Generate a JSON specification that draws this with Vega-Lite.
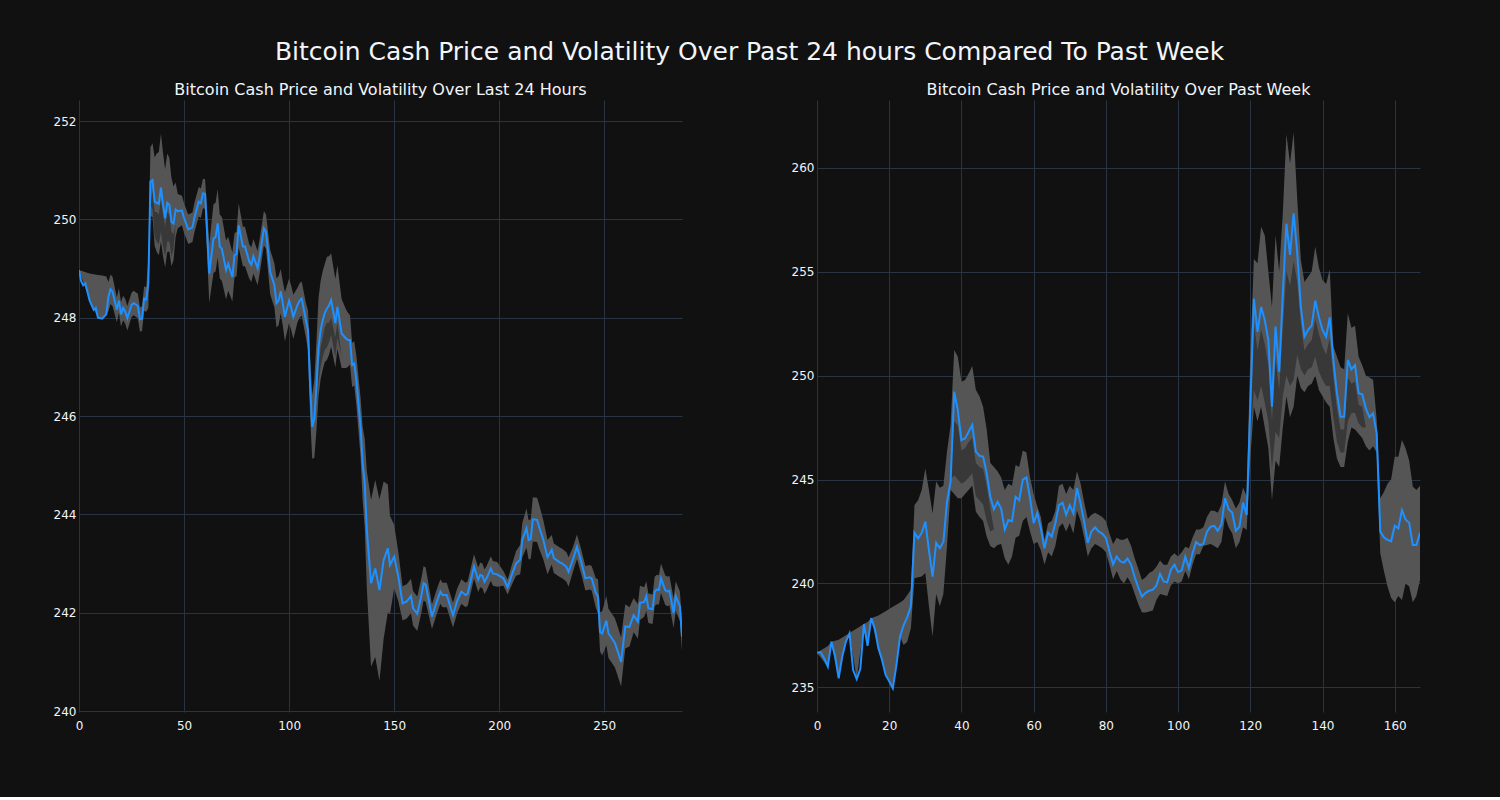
{
  "$schema": "https://vega.github.io/schema/vega-lite/v6.json",
  "background": "#111111",
  "padding": {"left": 53, "top": 40, "right": 80, "bottom": 66},
  "title": {"text": "Bitcoin Cash Price and Volatility Over Past 24 hours Compared To Past Week", "fontSize": 25, "color": "#f2f5fa", "font": "DejaVu Sans", "fontWeight": "normal", "anchor": "middle", "offset": 17, "dx": 13},
  "datasets": {
    "lp": [
      {"x":0,"p":248.97},{"x":1,"p":248.75},{"x":2,"p":248.66},{"x":3,"p":248.7},{"x":5,"p":248.36},{"x":7,"p":248.16},{"x":8,"p":248.2},{"x":9,"p":248.0},{"x":11,"p":247.98},{"x":13,"p":248.07},{"x":14,"p":248.43},{"x":15,"p":248.58},{"x":16,"p":248.53},{"x":18,"p":248.16},{"x":19,"p":248.35},{"x":20,"p":248.07},{"x":21,"p":248.2},{"x":22,"p":248.13},{"x":23,"p":247.99},{"x":25,"p":248.26},{"x":26,"p":248.3},{"x":28,"p":248.24},{"x":29,"p":247.97},{"x":30,"p":247.98},{"x":31,"p":248.39},{"x":32,"p":248.37},{"x":33,"p":248.7},{"x":34,"p":250.77},{"x":35,"p":250.8},{"x":36,"p":250.36},{"x":37,"p":250.34},{"x":38,"p":250.32},{"x":39,"p":250.65},{"x":40,"p":250.3},{"x":41,"p":250.02},{"x":42,"p":250.34},{"x":43,"p":250.3},{"x":44,"p":249.95},{"x":45,"p":249.92},{"x":46,"p":250.2},{"x":47,"p":250.17},{"x":49,"p":250.18},{"x":50,"p":250.03},{"x":52,"p":249.8},{"x":54,"p":249.84},{"x":55,"p":250.05},{"x":57,"p":250.36},{"x":58,"p":250.33},{"x":59,"p":250.53},{"x":60,"p":250.52},{"x":62,"p":248.9},{"x":64,"p":249.61},{"x":65,"p":249.64},{"x":66,"p":249.92},{"x":67,"p":249.45},{"x":68,"p":249.4},{"x":70,"p":248.97},{"x":71,"p":249.1},{"x":73,"p":248.83},{"x":74,"p":249.27},{"x":75,"p":249.3},{"x":76,"p":249.88},{"x":78,"p":249.45},{"x":79,"p":249.45},{"x":81,"p":249.15},{"x":82,"p":249.08},{"x":83,"p":249.25},{"x":85,"p":249.01},{"x":86,"p":249.25},{"x":88,"p":249.82},{"x":89,"p":249.75},{"x":91,"p":248.93},{"x":93,"p":248.66},{"x":94,"p":248.3},{"x":95,"p":248.35},{"x":96,"p":248.54},{"x":97,"p":248.29},{"x":98,"p":248.02},{"x":100,"p":248.35},{"x":101,"p":248.2},{"x":102,"p":248.02},{"x":104,"p":248.26},{"x":105,"p":248.35},{"x":106,"p":248.39},{"x":108,"p":247.95},{"x":109,"p":247.75},{"x":110,"p":246.6},{"x":111,"p":245.78},{"x":112,"p":245.95},{"x":113,"p":246.6},{"x":114,"p":247.4},{"x":115,"p":247.75},{"x":116,"p":247.95},{"x":117,"p":248.1},{"x":118,"p":248.19},{"x":119,"p":248.25},{"x":120,"p":248.36},{"x":122,"p":247.89},{"x":123,"p":248.22},{"x":125,"p":247.68},{"x":127,"p":247.58},{"x":128,"p":247.55},{"x":129,"p":247.55},{"x":130,"p":247.04},{"x":131,"p":247.07},{"x":132,"p":246.73},{"x":134,"p":245.78},{"x":135,"p":245.04},{"x":136,"p":244.63},{"x":137,"p":243.68},{"x":139,"p":242.6},{"x":141,"p":242.9},{"x":143,"p":242.46},{"x":145,"p":243.07},{"x":147,"p":243.31},{"x":148,"p":242.97},{"x":150,"p":243.14},{"x":152,"p":242.73},{"x":154,"p":242.19},{"x":156,"p":242.23},{"x":158,"p":242.34},{"x":159,"p":242.09},{"x":161,"p":241.98},{"x":163,"p":242.36},{"x":164,"p":242.6},{"x":165,"p":242.57},{"x":168,"p":241.92},{"x":170,"p":242.19},{"x":172,"p":242.43},{"x":173,"p":242.36},{"x":175,"p":242.36},{"x":178,"p":241.95},{"x":180,"p":242.24},{"x":182,"p":242.43},{"x":184,"p":242.36},{"x":185,"p":242.39},{"x":188,"p":242.94},{"x":190,"p":242.67},{"x":191,"p":242.77},{"x":192,"p":242.75},{"x":193,"p":242.63},{"x":194,"p":242.7},{"x":196,"p":242.9},{"x":197,"p":242.8},{"x":199,"p":242.78},{"x":202,"p":242.7},{"x":203,"p":242.61},{"x":204,"p":242.52},{"x":206,"p":242.77},{"x":208,"p":243.0},{"x":210,"p":243.08},{"x":211,"p":243.48},{"x":213,"p":243.72},{"x":214,"p":243.48},{"x":215,"p":243.5},{"x":216,"p":243.9},{"x":218,"p":243.89},{"x":219,"p":243.75},{"x":221,"p":243.48},{"x":223,"p":243.13},{"x":225,"p":243.28},{"x":226,"p":243.11},{"x":229,"p":243.02},{"x":230,"p":243.0},{"x":232,"p":242.93},{"x":233,"p":242.83},{"x":235,"p":243.07},{"x":237,"p":243.34},{"x":239,"p":243.04},{"x":241,"p":242.7},{"x":243,"p":242.72},{"x":244,"p":242.7},{"x":246,"p":242.4},{"x":247,"p":242.33},{"x":248,"p":241.61},{"x":249,"p":241.58},{"x":251,"p":241.84},{"x":252,"p":241.58},{"x":255,"p":241.39},{"x":256,"p":241.27},{"x":258,"p":241.0},{"x":260,"p":241.72},{"x":262,"p":241.71},{"x":264,"p":241.95},{"x":266,"p":241.82},{"x":267,"p":242.2},{"x":269,"p":242.22},{"x":270,"p":242.34},{"x":271,"p":242.09},{"x":273,"p":242.07},{"x":274,"p":242.43},{"x":275,"p":242.47},{"x":276,"p":242.46},{"x":277,"p":242.7},{"x":279,"p":242.46},{"x":280,"p":242.43},{"x":281,"p":242.45},{"x":283,"p":241.99},{"x":284,"p":242.34},{"x":286,"p":242.13},{"x":287,"p":241.51}
    ],
    "lb": [
      {"x":0,"lo":248.97,"hi":248.97},{"x":5,"lo":248.36,"hi":248.9},{"x":9,"lo":248.0,"hi":248.87},{"x":11,"lo":247.98,"hi":248.86},{"x":13,"lo":248.07,"hi":248.84},
      {"x":14,"lo":248.13,"hi":248.73},{"x":15,"lo":248.28,"hi":248.88},{"x":16,"lo":248.23,"hi":248.83},{"x":18,"lo":247.91,"hi":248.41},{"x":19,"lo":248.1,"hi":248.6},{"x":20,"lo":247.82,"hi":248.32},{"x":21,"lo":247.95,"hi":248.45},{"x":22,"lo":247.88,"hi":248.38},{"x":23,"lo":247.74,"hi":248.24},{"x":25,"lo":248.01,"hi":248.51},{"x":26,"lo":248.05,"hi":248.55},{"x":28,"lo":247.99,"hi":248.49},{"x":29,"lo":247.72,"hi":248.22},{"x":30,"lo":247.73,"hi":248.23},{"x":31,"lo":248.14,"hi":248.64},{"x":32,"lo":248.12,"hi":248.62},{"x":33,"lo":248.2,"hi":249.2},{"x":34,"lo":250.07,"hi":251.47},{"x":35,"lo":250.05,"hi":251.55},{"x":36,"lo":249.46,"hi":251.26},{"x":37,"lo":249.34,"hi":251.34},{"x":38,"lo":249.27,"hi":251.37},{"x":39,"lo":249.55,"hi":251.75},{"x":40,"lo":249.25,"hi":251.35},{"x":41,"lo":249.02,"hi":251.02},{"x":42,"lo":249.34,"hi":251.34},{"x":43,"lo":249.35,"hi":251.25},{"x":44,"lo":249.05,"hi":250.85},{"x":45,"lo":249.17,"hi":250.67},{"x":46,"lo":249.65,"hi":250.75},{"x":47,"lo":249.82,"hi":250.52},{"x":49,"lo":249.88,"hi":250.48},{"x":50,"lo":249.73,"hi":250.33},{"x":52,"lo":249.5,"hi":250.1},{"x":54,"lo":249.54,"hi":250.14},{"x":55,"lo":249.75,"hi":250.35},{"x":57,"lo":250.06,"hi":250.66},{"x":58,"lo":250.03,"hi":250.63},{"x":59,"lo":250.23,"hi":250.83},{"x":60,"lo":250.22,"hi":250.82},{"x":62,"lo":248.3,"hi":249.5},{"x":64,"lo":248.91,"hi":250.31},{"x":65,"lo":248.94,"hi":250.34},{"x":66,"lo":249.22,"hi":250.62},{"x":67,"lo":248.8,"hi":250.1},{"x":68,"lo":248.75,"hi":250.05},{"x":70,"lo":248.37,"hi":249.57},{"x":71,"lo":248.55,"hi":249.65},{"x":73,"lo":248.33,"hi":249.33},{"x":74,"lo":248.82,"hi":249.72},{"x":75,"lo":248.85,"hi":249.75},{"x":76,"lo":249.43,"hi":250.33},{"x":78,"lo":249.05,"hi":249.85},{"x":79,"lo":249.05,"hi":249.85},{"x":81,"lo":248.8,"hi":249.5},{"x":82,"lo":248.73,"hi":249.43},{"x":83,"lo":248.9,"hi":249.6},{"x":85,"lo":248.66,"hi":249.36},{"x":86,"lo":248.9,"hi":249.6},{"x":88,"lo":249.47,"hi":250.17},{"x":89,"lo":249.4,"hi":250.1},{"x":91,"lo":248.48,"hi":249.38},{"x":93,"lo":248.21,"hi":249.11},{"x":94,"lo":247.8,"hi":248.8},{"x":95,"lo":247.85,"hi":248.85},{"x":96,"lo":248.09,"hi":248.99},{"x":97,"lo":247.84,"hi":248.74},{"x":98,"lo":247.52,"hi":248.52},{"x":100,"lo":247.9,"hi":248.8},{"x":101,"lo":247.75,"hi":248.65},{"x":102,"lo":247.57,"hi":248.47},{"x":104,"lo":247.91,"hi":248.61},{"x":105,"lo":248.0,"hi":248.7},{"x":106,"lo":248.04,"hi":248.74},{"x":108,"lo":247.6,"hi":248.3},{"x":109,"lo":247.35,"hi":248.15},{"x":110,"lo":246.0,"hi":247.2},{"x":111,"lo":245.13,"hi":246.43},{"x":112,"lo":245.15,"hi":246.75},{"x":113,"lo":245.7,"hi":247.5},{"x":114,"lo":246.4,"hi":248.4},{"x":115,"lo":246.75,"hi":248.75},{"x":116,"lo":246.95,"hi":248.95},{"x":117,"lo":247.1,"hi":249.1},{"x":118,"lo":247.14,"hi":249.24},{"x":119,"lo":247.25,"hi":249.25},{"x":120,"lo":247.41,"hi":249.31},{"x":122,"lo":246.99,"hi":248.79},{"x":123,"lo":247.37,"hi":249.07},{"x":125,"lo":246.98,"hi":248.38},{"x":127,"lo":246.98,"hi":248.18},{"x":128,"lo":247.0,"hi":248.1},{"x":129,"lo":247.05,"hi":248.05},{"x":130,"lo":246.59,"hi":247.49},{"x":131,"lo":246.62,"hi":247.52},{"x":132,"lo":246.23,"hi":247.23},{"x":134,"lo":245.18,"hi":246.38},{"x":135,"lo":244.29,"hi":245.79},{"x":136,"lo":243.73,"hi":245.53},{"x":137,"lo":242.48,"hi":244.88},{"x":139,"lo":240.9,"hi":244.3},{"x":141,"lo":241.1,"hi":244.7},{"x":143,"lo":240.61,"hi":244.31},{"x":145,"lo":241.47,"hi":244.67},{"x":147,"lo":242.01,"hi":244.61},{"x":148,"lo":241.97,"hi":243.97},{"x":150,"lo":242.49,"hi":243.79},{"x":152,"lo":242.23,"hi":243.23},{"x":154,"lo":241.84,"hi":242.54},{"x":156,"lo":241.88,"hi":242.58},{"x":158,"lo":241.99,"hi":242.69},{"x":159,"lo":241.74,"hi":242.44},{"x":161,"lo":241.63,"hi":242.33},{"x":163,"lo":242.01,"hi":242.71},{"x":164,"lo":242.25,"hi":242.95},{"x":165,"lo":242.22,"hi":242.92},{"x":168,"lo":241.67,"hi":242.17},{"x":170,"lo":241.94,"hi":242.44},{"x":172,"lo":242.18,"hi":242.68},{"x":173,"lo":242.11,"hi":242.61},{"x":175,"lo":242.11,"hi":242.61},{"x":178,"lo":241.7,"hi":242.2},{"x":180,"lo":241.99,"hi":242.49},{"x":182,"lo":242.18,"hi":242.68},{"x":184,"lo":242.11,"hi":242.61},{"x":185,"lo":242.14,"hi":242.64},{"x":188,"lo":242.69,"hi":243.19},{"x":190,"lo":242.42,"hi":242.92},{"x":191,"lo":242.52,"hi":243.02},{"x":192,"lo":242.5,"hi":243.0},{"x":193,"lo":242.38,"hi":242.88},{"x":194,"lo":242.45,"hi":242.95},{"x":196,"lo":242.65,"hi":243.15},{"x":197,"lo":242.55,"hi":243.05},{"x":199,"lo":242.53,"hi":243.03},{"x":202,"lo":242.55,"hi":242.85},{"x":203,"lo":242.46,"hi":242.76},{"x":204,"lo":242.37,"hi":242.67},{"x":206,"lo":242.57,"hi":242.97},{"x":208,"lo":242.75,"hi":243.25},{"x":210,"lo":242.78,"hi":243.38},{"x":211,"lo":243.13,"hi":243.83},{"x":213,"lo":243.32,"hi":244.12},{"x":214,"lo":243.08,"hi":243.88},{"x":215,"lo":243.1,"hi":243.9},{"x":216,"lo":243.45,"hi":244.35},{"x":218,"lo":243.44,"hi":244.34},{"x":219,"lo":243.3,"hi":244.2},{"x":221,"lo":243.08,"hi":243.88},{"x":223,"lo":242.78,"hi":243.48},{"x":225,"lo":242.98,"hi":243.58},{"x":226,"lo":242.81,"hi":243.41},{"x":229,"lo":242.72,"hi":243.32},{"x":230,"lo":242.7,"hi":243.3},{"x":232,"lo":242.63,"hi":243.23},{"x":233,"lo":242.53,"hi":243.13},{"x":235,"lo":242.82,"hi":243.32},{"x":237,"lo":243.09,"hi":243.59},{"x":239,"lo":242.79,"hi":243.29},{"x":241,"lo":242.45,"hi":242.95},{"x":243,"lo":242.47,"hi":242.97},{"x":244,"lo":242.45,"hi":242.95},{"x":246,"lo":242.1,"hi":242.7},{"x":247,"lo":241.98,"hi":242.68},{"x":248,"lo":241.21,"hi":242.01},{"x":249,"lo":241.13,"hi":242.03},{"x":251,"lo":241.34,"hi":242.34},{"x":252,"lo":241.08,"hi":242.08},{"x":255,"lo":240.89,"hi":241.89},{"x":256,"lo":240.77,"hi":241.77},{"x":258,"lo":240.5,"hi":241.5},{"x":260,"lo":241.27,"hi":242.17},{"x":262,"lo":241.31,"hi":242.11},{"x":264,"lo":241.6,"hi":242.3},{"x":266,"lo":241.47,"hi":242.17},{"x":267,"lo":241.85,"hi":242.55},{"x":269,"lo":241.92,"hi":242.52},{"x":270,"lo":242.04,"hi":242.64},{"x":271,"lo":241.79,"hi":242.39},{"x":273,"lo":241.77,"hi":242.37},{"x":274,"lo":242.13,"hi":242.73},{"x":275,"lo":242.17,"hi":242.77},{"x":276,"lo":242.16,"hi":242.76},{"x":277,"lo":242.4,"hi":243.0},{"x":279,"lo":242.16,"hi":242.76},{"x":280,"lo":242.13,"hi":242.73},{"x":281,"lo":242.15,"hi":242.75},{"x":283,"lo":241.69,"hi":242.29},{"x":284,"lo":242.04,"hi":242.64},{"x":286,"lo":241.83,"hi":242.43},{"x":287,"lo":241.21,"hi":241.81}
    ],
    "ld": [
      {"x":34,"lo":250.3,"hi":250.3,"seg":"a"},{"x":35,"lo":250.2,"hi":250.6,"seg":"a"},{"x":36,"lo":249.65,"hi":250.15,"seg":"a"},{"x":37,"lo":249.55,"hi":250.15,"seg":"a"},{"x":38,"lo":249.5,"hi":250.1,"seg":"a"},{"x":39,"lo":249.75,"hi":250.4,"seg":"a"},{"x":40,"lo":249.45,"hi":250.1,"seg":"a"},{"x":41,"lo":249.25,"hi":249.85,"seg":"a"},{"x":42,"lo":249.55,"hi":250.15,"seg":"a"},{"x":43,"lo":249.55,"hi":250.1,"seg":"a"},{"x":44,"lo":249.25,"hi":249.75,"seg":"a"},{"x":45,"lo":249.4,"hi":249.7,"seg":"a"},{"x":46,"lo":249.9,"hi":249.9,"seg":"a"},
      {"x":113,"lo":246.0,"hi":246.0,"seg":"b"},{"x":114,"lo":246.7,"hi":247.0,"seg":"b"},{"x":115,"lo":247.0,"hi":247.4,"seg":"b"},{"x":116,"lo":247.2,"hi":247.6,"seg":"b"},{"x":117,"lo":247.35,"hi":247.8,"seg":"b"},{"x":118,"lo":247.4,"hi":247.9,"seg":"b"},{"x":119,"lo":247.5,"hi":247.9,"seg":"b"},{"x":120,"lo":247.65,"hi":248.0,"seg":"b"},{"x":122,"lo":247.2,"hi":247.6,"seg":"b"},{"x":123,"lo":247.6,"hi":247.9,"seg":"b"},{"x":125,"lo":247.2,"hi":247.2,"seg":"b"}
    ],
    "rp": [
      {"x":0,"p":236.67},{"x":1,"p":236.7},{"x":2,"p":236.4},{"x":3,"p":236.0},{"x":4,"p":237.2},{"x":5,"p":236.5},{"x":6,"p":235.44},{"x":7,"p":236.5},{"x":8,"p":237.2},{"x":9,"p":237.6},{"x":10,"p":235.84},{"x":11,"p":235.4},{"x":12,"p":235.9},{"x":13,"p":238.05},{"x":14,"p":237.0},{"x":15,"p":238.33},{"x":16,"p":237.85},{"x":17,"p":236.89},{"x":18,"p":236.33},{"x":19,"p":235.6},{"x":20,"p":235.3},{"x":21,"p":234.96},{"x":22,"p":236.08},{"x":23,"p":237.44},{"x":24,"p":238.0},{"x":25,"p":238.38},{"x":26,"p":238.9},{"x":27,"p":242.44},{"x":28,"p":242.17},{"x":29,"p":242.44},{"x":30,"p":242.97},{"x":31,"p":241.6},{"x":32,"p":240.33},{"x":33,"p":241.96},{"x":34,"p":241.7},{"x":35,"p":242.0},{"x":36,"p":243.93},{"x":37,"p":244.9},{"x":38,"p":249.22},{"x":39,"p":248.34},{"x":40,"p":246.9},{"x":41,"p":246.97},{"x":42,"p":247.3},{"x":43,"p":247.62},{"x":44,"p":246.34},{"x":45,"p":246.14},{"x":46,"p":246.1},{"x":47,"p":245.3},{"x":48,"p":244.17},{"x":49,"p":243.57},{"x":50,"p":243.93},{"x":51,"p":243.6},{"x":52,"p":242.6},{"x":53,"p":243.05},{"x":54,"p":243.0},{"x":55,"p":244.17},{"x":56,"p":244.0},{"x":57,"p":245.0},{"x":58,"p":245.1},{"x":59,"p":244.1},{"x":60,"p":242.9},{"x":61,"p":243.4},{"x":62,"p":242.64},{"x":63,"p":241.69},{"x":64,"p":242.45},{"x":65,"p":242.25},{"x":66,"p":242.9},{"x":67,"p":243.77},{"x":68,"p":243.88},{"x":69,"p":243.3},{"x":70,"p":243.77},{"x":71,"p":243.37},{"x":72,"p":244.58},{"x":73,"p":243.85},{"x":74,"p":242.96},{"x":75,"p":241.96},{"x":76,"p":242.5},{"x":77,"p":242.7},{"x":78,"p":242.5},{"x":79,"p":242.4},{"x":80,"p":242.2},{"x":81,"p":241.53},{"x":82,"p":240.92},{"x":83,"p":241.3},{"x":84,"p":241.06},{"x":85,"p":241.0},{"x":86,"p":241.2},{"x":87,"p":240.9},{"x":88,"p":240.3},{"x":89,"p":239.8},{"x":90,"p":239.37},{"x":91,"p":239.55},{"x":92,"p":239.65},{"x":93,"p":239.7},{"x":94,"p":239.9},{"x":95,"p":240.46},{"x":96,"p":240.1},{"x":97,"p":240.06},{"x":98,"p":240.66},{"x":99,"p":240.9},{"x":100,"p":240.54},{"x":101,"p":240.63},{"x":102,"p":241.29},{"x":103,"p":240.73},{"x":104,"p":241.45},{"x":105,"p":242.0},{"x":106,"p":241.85},{"x":107,"p":241.9},{"x":108,"p":242.49},{"x":109,"p":242.73},{"x":110,"p":242.77},{"x":111,"p":242.53},{"x":112,"p":242.85},{"x":113,"p":244.1},{"x":114,"p":243.57},{"x":115,"p":243.4},{"x":116,"p":242.54},{"x":117,"p":242.73},{"x":118,"p":243.89},{"x":119,"p":243.3},{"x":120,"p":248.5},{"x":121,"p":253.7},{"x":122,"p":252.1},{"x":123,"p":253.3},{"x":124,"p":252.67},{"x":125,"p":251.7},{"x":126,"p":248.5},{"x":127,"p":252.35},{"x":128,"p":250.18},{"x":129,"p":253.9},{"x":130,"p":257.3},{"x":131,"p":255.8},{"x":132,"p":257.8},{"x":133,"p":255.9},{"x":134,"p":253.3},{"x":135,"p":251.87},{"x":136,"p":252.2},{"x":137,"p":252.4},{"x":138,"p":253.6},{"x":139,"p":252.8},{"x":140,"p":252.2},{"x":141,"p":251.87},{"x":142,"p":252.8},{"x":143,"p":250.75},{"x":144,"p":249.15},{"x":145,"p":248.02},{"x":146,"p":248.02},{"x":147,"p":250.75},{"x":148,"p":250.3},{"x":149,"p":250.5},{"x":150,"p":249.15},{"x":151,"p":249.1},{"x":152,"p":248.42},{"x":153,"p":248.0},{"x":154,"p":248.18},{"x":155,"p":247.22},{"x":156,"p":242.49},{"x":157,"p":242.22},{"x":158,"p":242.1},{"x":159,"p":242.03},{"x":160,"p":242.78},{"x":161,"p":242.65},{"x":162,"p":243.53},{"x":163,"p":243.08},{"x":164,"p":242.92},{"x":165,"p":241.85},{"x":166,"p":241.85},{"x":167,"p":242.44}
    ],
    "rb": [
      {"x":0,"lo":236.67,"hi":236.67},{"x":3,"lo":236.0,"hi":236.99},{"x":4,"lo":237.09,"hi":237.2},{"x":6,"lo":235.44,"hi":237.3},{"x":8,"lo":237.2,"hi":237.51},{"x":9,"lo":237.6,"hi":237.62},{"x":11,"lo":235.4,"hi":237.83},{"x":13,"lo":238.04,"hi":238.05},{"x":14,"lo":237.0,"hi":238.15},{"x":15,"lo":238.25,"hi":238.33},{"x":17,"lo":236.89,"hi":238.46},{"x":19,"lo":235.6,"hi":238.67},{"x":21,"lo":234.96,"hi":238.88},{"x":23,"lo":237.44,"hi":239.09},
      {"x":24,"lo":237.04,"hi":239.2},{"x":25,"lo":237.2,"hi":239.45},{"x":26,"lo":237.85,"hi":239.7},{"x":27,"lo":240.25,"hi":243.77},{"x":28,"lo":240.3,"hi":244.0},{"x":29,"lo":240.33,"hi":244.5},{"x":30,"lo":240.5,"hi":245.53},{"x":31,"lo":238.9,"hi":244.5},{"x":32,"lo":237.44,"hi":243.37},{"x":33,"lo":239.5,"hi":244.9},{"x":34,"lo":238.9,"hi":244.6},{"x":35,"lo":239.5,"hi":244.7},{"x":36,"lo":241.77,"hi":246.34},{"x":37,"lo":244.5,"hi":247.62},{"x":38,"lo":244.3,"hi":251.23},{"x":39,"lo":244.1,"hi":250.9},{"x":40,"lo":244.1,"hi":249.7},{"x":41,"lo":244.3,"hi":249.78},{"x":42,"lo":244.5,"hi":250.1},{"x":43,"lo":244.7,"hi":250.46},{"x":44,"lo":243.45,"hi":249.3},{"x":45,"lo":243.2,"hi":249.0},{"x":46,"lo":243.0,"hi":248.5},{"x":47,"lo":242.25,"hi":247.4},{"x":48,"lo":241.8,"hi":245.8},{"x":49,"lo":241.7,"hi":245.6},{"x":50,"lo":241.85,"hi":245.4},{"x":51,"lo":241.9,"hi":245.1},{"x":52,"lo":241.2,"hi":244.5},{"x":53,"lo":240.9,"hi":244.8},{"x":54,"lo":241.3,"hi":244.7},{"x":55,"lo":242.2,"hi":245.7},{"x":56,"lo":242.3,"hi":245.6},{"x":57,"lo":243.0,"hi":246.4},{"x":58,"lo":243.2,"hi":246.3},{"x":59,"lo":242.5,"hi":245.1},{"x":60,"lo":241.9,"hi":244.3},{"x":61,"lo":242.0,"hi":243.7},{"x":62,"lo":241.6,"hi":243.2},{"x":63,"lo":240.9,"hi":242.1},{"x":64,"lo":241.5,"hi":242.9},{"x":65,"lo":241.3,"hi":243.0},{"x":66,"lo":241.8,"hi":243.5},{"x":67,"lo":242.7,"hi":244.7},{"x":68,"lo":242.9,"hi":244.8},{"x":69,"lo":242.5,"hi":244.3},{"x":70,"lo":242.9,"hi":244.7},{"x":71,"lo":242.4,"hi":244.5},{"x":72,"lo":243.5,"hi":245.4},{"x":73,"lo":243.0,"hi":244.8},{"x":74,"lo":242.2,"hi":243.9},{"x":75,"lo":241.3,"hi":243.1},{"x":76,"lo":241.7,"hi":243.3},{"x":77,"lo":241.9,"hi":243.4},{"x":78,"lo":241.8,"hi":243.3},{"x":79,"lo":241.7,"hi":243.2},{"x":80,"lo":241.5,"hi":243.0},{"x":81,"lo":240.9,"hi":242.4},{"x":82,"lo":240.2,"hi":241.9},{"x":83,"lo":240.6,"hi":242.2},{"x":84,"lo":240.2,"hi":242.1},{"x":85,"lo":240.0,"hi":242.1},{"x":86,"lo":240.3,"hi":242.2},{"x":87,"lo":240.0,"hi":241.8},{"x":88,"lo":239.5,"hi":241.2},{"x":89,"lo":239.0,"hi":240.7},{"x":90,"lo":238.6,"hi":240.17},{"x":91,"lo":238.6,"hi":240.3},{"x":92,"lo":238.65,"hi":240.5},{"x":93,"lo":238.7,"hi":240.6},{"x":94,"lo":239.2,"hi":240.8},{"x":95,"lo":239.5,"hi":241.1},{"x":96,"lo":239.45,"hi":240.9},{"x":97,"lo":239.4,"hi":240.9},{"x":98,"lo":239.9,"hi":241.3},{"x":99,"lo":240.1,"hi":241.45},{"x":100,"lo":240.0,"hi":241.3},{"x":101,"lo":240.1,"hi":241.5},{"x":102,"lo":240.6,"hi":241.77},{"x":103,"lo":240.2,"hi":241.7},{"x":104,"lo":240.9,"hi":242.2},{"x":105,"lo":241.4,"hi":242.6},{"x":106,"lo":241.4,"hi":242.6},{"x":107,"lo":241.8,"hi":242.7},{"x":108,"lo":241.85,"hi":243.2},{"x":109,"lo":241.9,"hi":243.5},{"x":110,"lo":241.8,"hi":243.5},{"x":111,"lo":241.7,"hi":243.4},{"x":112,"lo":242.0,"hi":243.8},{"x":113,"lo":243.2,"hi":244.9},{"x":114,"lo":242.7,"hi":244.3},{"x":115,"lo":242.4,"hi":244.0},{"x":116,"lo":241.7,"hi":243.6},{"x":117,"lo":242.0,"hi":243.9},{"x":118,"lo":242.7,"hi":244.6},{"x":119,"lo":242.57,"hi":244.2},{"x":120,"lo":246.0,"hi":251.0},{"x":121,"lo":248.5,"hi":255.6},{"x":122,"lo":247.8,"hi":255.4},{"x":123,"lo":248.5,"hi":257.15},{"x":124,"lo":247.5,"hi":256.75},{"x":125,"lo":246.5,"hi":255.0},{"x":126,"lo":244.0,"hi":253.3},{"x":127,"lo":245.9,"hi":256.75},{"x":128,"lo":245.6,"hi":255.0},{"x":129,"lo":247.5,"hi":257.8},{"x":130,"lo":249.0,"hi":261.6},{"x":131,"lo":248.0,"hi":260.2},{"x":132,"lo":248.5,"hi":261.7},{"x":133,"lo":250.0,"hi":258.5},{"x":134,"lo":249.4,"hi":255.55},{"x":135,"lo":249.2,"hi":254.5},{"x":136,"lo":249.5,"hi":254.75},{"x":137,"lo":249.6,"hi":255.0},{"x":138,"lo":250.0,"hi":256.2},{"x":139,"lo":249.3,"hi":255.2},{"x":140,"lo":249.0,"hi":254.6},{"x":141,"lo":248.7,"hi":254.4},{"x":142,"lo":248.5,"hi":255.1},{"x":143,"lo":247.0,"hi":251.4},{"x":144,"lo":246.0,"hi":250.9},{"x":145,"lo":245.6,"hi":250.4},{"x":146,"lo":245.6,"hi":250.3},{"x":147,"lo":246.8,"hi":253.0},{"x":148,"lo":247.5,"hi":252.3},{"x":149,"lo":247.4,"hi":252.4},{"x":150,"lo":247.2,"hi":250.9},{"x":151,"lo":247.0,"hi":250.5},{"x":152,"lo":246.6,"hi":250.0},{"x":153,"lo":246.4,"hi":249.9},{"x":154,"lo":246.6,"hi":249.8},{"x":155,"lo":246.3,"hi":247.9},{"x":156,"lo":241.45,"hi":244.1},{"x":157,"lo":240.6,"hi":244.4},{"x":158,"lo":239.85,"hi":244.8},{"x":159,"lo":239.3,"hi":245.0},{"x":160,"lo":239.1,"hi":246.1},{"x":161,"lo":239.4,"hi":246.1},{"x":162,"lo":239.2,"hi":246.9},{"x":163,"lo":240.0,"hi":246.5},{"x":164,"lo":239.85,"hi":245.9},{"x":165,"lo":239.1,"hi":244.66},{"x":166,"lo":239.4,"hi":244.5},{"x":167,"lo":240.17,"hi":244.7}
    ],
    "rd": [
      {"x":37,"lo":245.0,"hi":245.0,"seg":"a"},{"x":38,"lo":245.2,"hi":247.8,"seg":"a"},{"x":39,"lo":245.0,"hi":247.6,"seg":"a"},{"x":40,"lo":244.8,"hi":246.4,"seg":"a"},{"x":41,"lo":244.9,"hi":246.5,"seg":"a"},{"x":42,"lo":245.1,"hi":246.8,"seg":"a"},{"x":43,"lo":245.3,"hi":247.0,"seg":"a"},{"x":44,"lo":244.2,"hi":245.8,"seg":"a"},{"x":45,"lo":244.0,"hi":245.6,"seg":"a"},{"x":46,"lo":243.8,"hi":245.5,"seg":"a"},{"x":47,"lo":243.0,"hi":244.7,"seg":"a"},{"x":48,"lo":242.5,"hi":243.6,"seg":"a"},{"x":49,"lo":242.6,"hi":242.6,"seg":"a"},
      {"x":120,"lo":247.0,"hi":247.0,"seg":"b"},{"x":121,"lo":249.3,"hi":252.5,"seg":"b"},{"x":122,"lo":248.8,"hi":251.2,"seg":"b"},{"x":123,"lo":249.5,"hi":252.2,"seg":"b"},{"x":124,"lo":248.7,"hi":251.5,"seg":"b"},{"x":125,"lo":247.8,"hi":250.5,"seg":"b"},{"x":126,"lo":245.5,"hi":247.8,"seg":"b"},{"x":127,"lo":247.3,"hi":250.8,"seg":"b"},{"x":128,"lo":247.0,"hi":249.3,"seg":"b"},{"x":129,"lo":249.0,"hi":252.3,"seg":"b"},{"x":130,"lo":250.0,"hi":255.0,"seg":"b"},{"x":131,"lo":249.5,"hi":254.3,"seg":"b"},{"x":132,"lo":249.8,"hi":255.5,"seg":"b"},{"x":133,"lo":251.0,"hi":254.5,"seg":"b"},{"x":134,"lo":250.3,"hi":252.5,"seg":"b"},{"x":135,"lo":250.0,"hi":251.2,"seg":"b"},{"x":136,"lo":250.3,"hi":251.5,"seg":"b"},{"x":137,"lo":250.4,"hi":251.7,"seg":"b"},{"x":138,"lo":250.9,"hi":252.7,"seg":"b"},{"x":139,"lo":250.2,"hi":252.0,"seg":"b"},{"x":140,"lo":249.8,"hi":251.4,"seg":"b"},{"x":141,"lo":249.5,"hi":251.0,"seg":"b"},{"x":142,"lo":249.5,"hi":251.8,"seg":"b"},{"x":143,"lo":248.0,"hi":249.9,"seg":"b"},{"x":144,"lo":246.8,"hi":248.4,"seg":"b"},{"x":145,"lo":246.3,"hi":247.4,"seg":"b"},{"x":146,"lo":246.3,"hi":247.4,"seg":"b"},{"x":147,"lo":247.8,"hi":249.9,"seg":"b"},{"x":148,"lo":248.2,"hi":249.6,"seg":"b"},{"x":149,"lo":248.2,"hi":249.7,"seg":"b"},{"x":150,"lo":247.7,"hi":248.6,"seg":"b"},{"x":151,"lo":247.5,"hi":248.5,"seg":"b"},{"x":152,"lo":247.5,"hi":247.5,"seg":"b"}
    ]
  },
  "hconcat": [
    {
      "width": 603, "height": 612,
      "title": {"text": "Bitcoin Cash Price and Volatility Over Last 24 Hours", "fontSize": 16, "offset": 2},
      "layer": [
        {"data": {"name": "lb"}, "mark": {"type": "area", "color": "#555555", "opacity": 1, "clip": true},
         "encoding": {
           "x": {"field": "x", "type": "quantitative", "scale": {"domain": [0, 287], "nice": false, "zero": false}, "axis": {"values": [0, 50, 100, 150, 200, 250]}},
           "y": {"field": "lo", "type": "quantitative", "scale": {"domain": [239.98, 252.43], "nice": false, "zero": false}, "axis": {"values": [240, 242, 244, 246, 248, 250, 252]}},
           "y2": {"field": "hi"}}},
        {"data": {"name": "ld"}, "mark": {"type": "area", "color": "#383838", "opacity": 1, "clip": true},
         "encoding": {"x": {"field": "x", "type": "quantitative"}, "y": {"field": "lo", "type": "quantitative"}, "y2": {"field": "hi"}, "detail": {"field": "seg"}}},
        {"mark": {"type": "rule", "color": "#283442", "strokeWidth": 2}, "encoding": {"x": {"datum": 0}}},
        {"data": {"name": "lp"}, "mark": {"type": "line", "color": "#1E90FF", "strokeWidth": 2, "clip": true},
         "encoding": {"x": {"field": "x", "type": "quantitative"}, "y": {"field": "p", "type": "quantitative"}}}
      ]
    },
    {
      "width": 603, "height": 612,
      "title": {"text": "Bitcoin Cash Price and Volatility Over Past Week", "fontSize": 16, "offset": 2},
      "layer": [
        {"data": {"name": "rb"}, "mark": {"type": "area", "color": "#555555", "opacity": 1, "clip": true},
         "encoding": {
           "x": {"field": "x", "type": "quantitative", "scale": {"domain": [0, 167], "nice": false, "zero": false}, "axis": {"values": [0, 20, 40, 60, 80, 100, 120, 140, 160]}},
           "y": {"field": "lo", "type": "quantitative", "scale": {"domain": [233.82, 263.25], "nice": false, "zero": false}, "axis": {"values": [235, 240, 245, 250, 255, 260]}},
           "y2": {"field": "hi"}}},
        {"data": {"name": "rd"}, "mark": {"type": "area", "color": "#383838", "opacity": 1, "clip": true},
         "encoding": {"x": {"field": "x", "type": "quantitative"}, "y": {"field": "lo", "type": "quantitative"}, "y2": {"field": "hi"}, "detail": {"field": "seg"}}},
        {"mark": {"type": "rule", "color": "#283442", "strokeWidth": 2}, "encoding": {"x": {"datum": 0}}},
        {"data": {"name": "rp"}, "mark": {"type": "line", "color": "#1E90FF", "strokeWidth": 2, "clip": true},
         "encoding": {"x": {"field": "x", "type": "quantitative"}, "y": {"field": "p", "type": "quantitative"}}}
      ]
    }
  ],
  "spacing": 109,
  "config": {
    "view": {"stroke": null},
    "axis": {"grid": true, "gridColor": "#283442", "gridWidth": 1, "domain": false, "ticks": false, "labelColor": "#f2f5fa", "labelFont": "DejaVu Sans", "labelFontSize": 12, "labelFlush": false, "title": null},
    "axisX": {"labelPadding": 8},
    "axisY": {"labelPadding": 3},
    "title": {"color": "#f2f5fa", "font": "DejaVu Sans", "fontWeight": "normal"}
  }
}
